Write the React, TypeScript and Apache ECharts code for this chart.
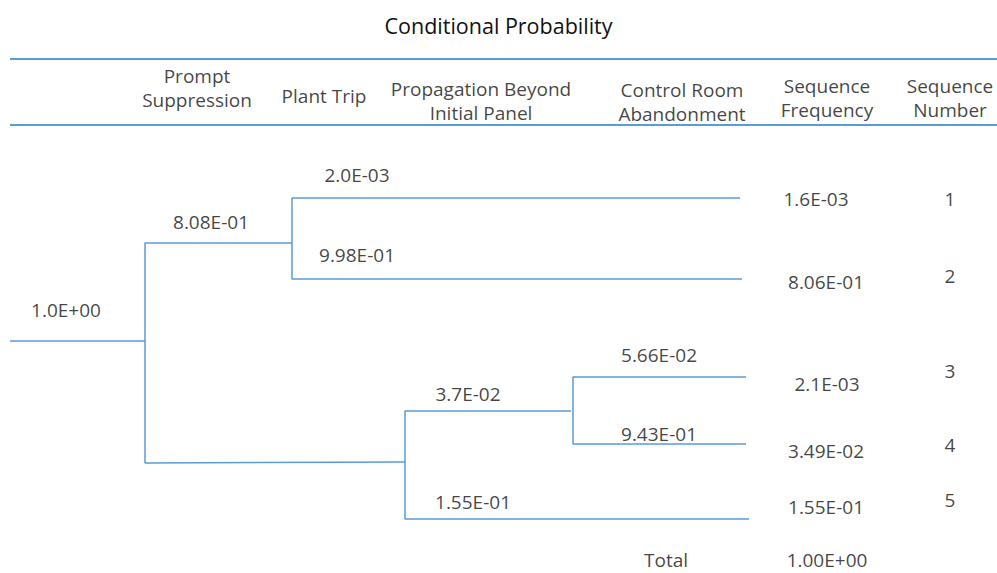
import React, { useEffect, useRef } from "react";
import * as echarts from "echarts";

// ---- data ----
const TITLE = "Conditional Probability";
const HEADERS = [
  "Prompt\nSuppression",
  "Plant Trip",
  "Propagation Beyond\nInitial Panel",
  "Control Room\nAbandonment",
  "Sequence\nFrequency",
  "Sequence\nNumber",
];
const INITIAL_PROB = "1.0E+00";
const BRANCH_PROBS = ["8.08E-01", "2.0E-03", "9.98E-01", "3.7E-02", "5.66E-02", "9.43E-01", "1.55E-01"];
const SEQ_FREQ = ["1.6E-03", "8.06E-01", "2.1E-03", "3.49E-02", "1.55E-01"];
const SEQ_NUM = ["1", "2", "3", "4", "5"];
const TOTAL_LABEL = "Total";
const TOTAL_FREQ = "1.00E+00";

// ---- layout (diagram coordinates) ----
const HEADER_X = [197, 324, 481, 682, 827, 950];
const HEADER_Y = [88, 96, 101, 102, 98, 98];
const INITIAL_POS = [66, 310];
const BRANCH_POS = [
  [211, 222],
  [357, 175],
  [357, 255],
  [468, 394],
  [659, 355],
  [659, 434],
  [473, 502],
];
const FREQ_X = [816, 826, 827, 826, 826];
const FREQ_Y = [199, 282, 384, 451, 507];
const NUM_X = 950;
const NUM_Y = [199, 276, 371, 445, 500];
const TOTAL_POS = [[666, 560], [827, 560]];
const HEADER_RULES = [59, 125];
const TREE_PATHS = [
  [[10, 341], [145, 341]],
  [[292, 243], [145, 243], [145, 463], [405, 462]],
  [[740, 198], [292, 198], [292, 279], [742, 279]],
  [[571, 411], [405, 411], [405, 519], [749, 519]],
  [[746, 377], [573, 377], [573, 444], [746, 444]],
];

const FONT = "'Open Sans', sans-serif";
const BLUE = "#5B9BD5";

export default function App() {
  const ref = useRef<HTMLDivElement>(null);
  useEffect(() => {
    document.body.style.margin = "0";
    const chart = echarts.init(ref.current!, null, { renderer: "svg" });

    const lineSeries: any[] = [];
    HEADER_RULES.forEach((y) =>
      lineSeries.push({
        type: "line",
        data: [[10, y], [997, y]],
        symbol: "none",
        silent: true,
        lineStyle: { color: BLUE, width: 2 },
      })
    );
    TREE_PATHS.forEach((p) =>
      lineSeries.push({
        type: "line",
        data: p,
        symbol: "none",
        silent: true,
        lineStyle: { color: BLUE, width: 1.5 },
      })
    );

    const labels: any[] = [];
    HEADERS.forEach((h, i) => labels.push({ name: h, value: [HEADER_X[i], HEADER_Y[i]] }));
    labels.push({ name: INITIAL_PROB, value: INITIAL_POS });
    BRANCH_PROBS.forEach((p, i) => labels.push({ name: p, value: BRANCH_POS[i] }));
    SEQ_FREQ.forEach((f, i) => labels.push({ name: f, value: [FREQ_X[i], FREQ_Y[i]] }));
    SEQ_NUM.forEach((n, i) => labels.push({ name: n, value: [NUM_X, NUM_Y[i]] }));
    labels.push({ name: TOTAL_LABEL, value: TOTAL_POS[0] });
    labels.push({ name: TOTAL_FREQ, value: TOTAL_POS[1] });

    chart.setOption({
      animation: false,
      backgroundColor: "#ffffff",
      title: {
        text: TITLE,
        left: "center",
        top: 9,
        textStyle: { fontFamily: FONT, fontSize: 21.5, fontWeight: "normal", color: "#111" },
      },
      grid: { left: 0, right: 0, top: 0, bottom: 0 },
      xAxis: { type: "value", min: 0, max: 997, show: false },
      yAxis: { type: "value", min: 0, max: 573, inverse: true, show: false },
      series: [
        ...lineSeries,
        {
          type: "scatter",
          data: labels,
          symbolSize: 0,
          silent: true,
          label: {
            show: true,
            position: "inside",
            formatter: "{b}",
            color: "#111",
            fontFamily: FONT,
            fontSize: 19,
            lineHeight: 24,
            align: "center",
            verticalAlign: "middle",
          },
        },
      ],
    });
    return () => chart.dispose();
  }, []);
  return <div ref={ref} style={{ width: 997, height: 573 }} />;
}
